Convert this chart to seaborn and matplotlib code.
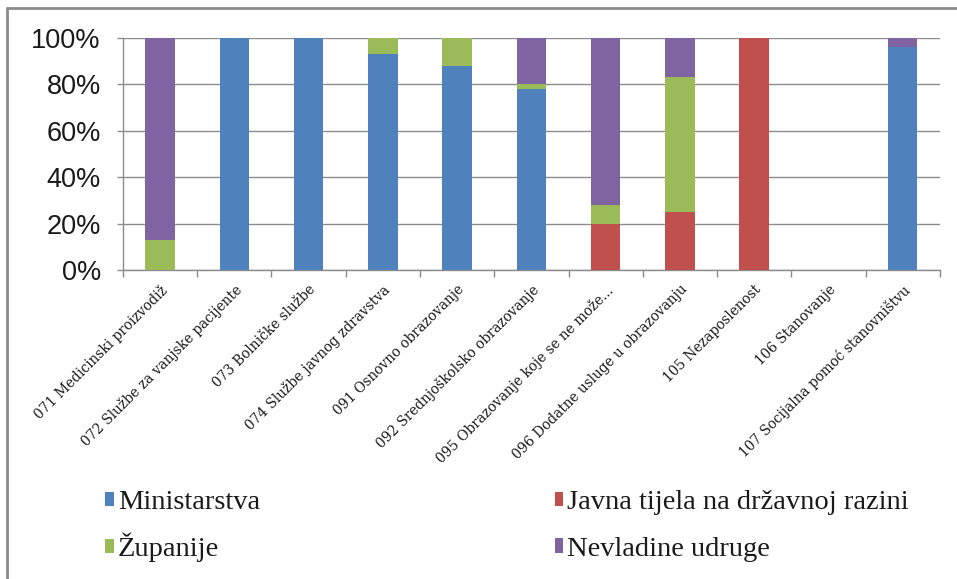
import numpy as np
import pandas as pd
import matplotlib
matplotlib.use("Agg")
import matplotlib.pyplot as plt
from matplotlib.patches import Patch
from matplotlib.lines import Line2D
from matplotlib.ticker import FuncFormatter
import seaborn as sns

# Functional categories (COFOG codes)
categories = [
    "071 Medicinski proizvodiž",
    "072 Službe za vanjske pacijente",
    "073 Bolničke službe",
    "074 Službe javnog zdravstva",
    "091 Osnovno obrazovanje",
    "092 Srednjoškolsko obrazovanje",
    "095 Obrazovanje koje se ne može...",
    "096 Dodatne usluge u obrazovanju",
    "105 Nezaposlenost",
    "106 Stanovanje",
    "107 Socijalna pomoć stanovništvu",
]

# Share of each provider type (%), stacked bottom to top
ministarstva = [0, 100, 100, 93, 88, 78, 0, 0, 0, 0, 96]
javna_tijela = [0, 0, 0, 0, 0, 0, 20, 25, 100, 0, 0]
zupanije = [13, 0, 0, 7, 12, 2, 8, 58, 0, 0, 0]
nevladine = [87, 0, 0, 0, 0, 20, 72, 17, 0, 0, 4]

series_names = ["Ministarstva", "Javna tijela na državnoj razini", "Županije", "Nevladine udruge"]
series_values = [ministarstva, javna_tijela, zupanije, nevladine]
series_colors = ["#4F81BD", "#C0504D", "#9BBB59", "#8064A2"]

y_ticks = [0, 20, 40, 60, 80, 100]

sns.set_theme(style="white")
plt.rcParams["font.family"] = ["Liberation Sans", "DejaVu Sans"]

fig = plt.figure(figsize=(9.57, 5.79), dpi=100)
ax = fig.add_axes([0.1285, 0.5337, 0.8535, 0.4007])

# Stacked bars: draw cumulative totals from the top segment down
cum = np.cumsum(np.array(series_values, dtype=float), axis=0)
for i in range(len(series_names) - 1, -1, -1):
    df = pd.DataFrame({"kategorija": categories, "udio": cum[i]})
    sns.barplot(data=df, x="kategorija", y="udio", order=categories,
                color=series_colors[i], saturation=1, width=0.40,
                linewidth=0, edgecolor="none", ax=ax, zorder=3)

ax.set_ylim(0, 100)
ax.set_xlim(-0.5, len(categories) - 0.5)
ax.set_yticks(y_ticks)
ax.yaxis.set_major_formatter(FuncFormatter(lambda v, p: f"{int(v)}%"))
ax.grid(axis="y", color="#8C8C8C", linewidth=1.0, zorder=0)
ax.set_axisbelow(True)
ax.set_xlabel("")
ax.set_ylabel("")

for side in ["top", "right"]:
    ax.spines[side].set_visible(False)
for side in ["left", "bottom"]:
    ax.spines[side].set_color("#8C8C8C")
    ax.spines[side].set_linewidth(1.0)

ax.tick_params(axis="y", which="major", left=True, length=4, width=1,
               color="#8C8C8C", pad=12, labelsize=19.5, labelcolor="#1a1a1a")

# Category ticks sit on the boundaries between bars
ax.set_xticks(np.arange(len(categories) + 1) - 0.5, minor=True)
ax.tick_params(axis="x", which="minor", bottom=True, length=5, width=1, color="#8C8C8C")
ax.tick_params(axis="x", which="major", bottom=False, pad=3)
ax.set_xticks(np.arange(len(categories)))
ax.set_xticklabels(categories, rotation=45, ha="right", rotation_mode="anchor",
                   fontsize=9.8, family=["DejaVu Serif"], color="#1a1a1a")

# Legend in two columns
handles = [Patch(facecolor=c, edgecolor="none") for c in series_colors]
leg_kw = dict(frameon=False, handlelength=0.3, handleheight=0.4,
              handletextpad=0.15,
              prop={"family": ["Liberation Serif", "DejaVu Serif"], "size": 20.5},
              loc="upper left", borderaxespad=0, borderpad=0)
leg1 = fig.legend([handles[0], handles[2]], [series_names[0], series_names[2]],
                  labelspacing=0.62, **leg_kw)
leg1.set_bbox_to_anchor((0.110, 0.1535), transform=fig.transFigure)
leg2 = fig.legend([handles[1], handles[3]], [series_names[1], series_names[3]],
                  labelspacing=0.76, **leg_kw)
leg2.set_bbox_to_anchor((0.5795, 0.1535), transform=fig.transFigure)
for leg in (leg1, leg2):
    for t in leg.get_texts():
        t.set_color("#1a1a1a")

# Outer chart frame (left and top edges)
fig.add_artist(Line2D([0.0075, 0.0075], [0.0, 0.986], transform=fig.transFigure,
                      color="#8C8C8C", linewidth=2))
fig.add_artist(Line2D([0.0075, 1.0], [0.986, 0.986], transform=fig.transFigure,
                      color="#8C8C8C", linewidth=2))

fig.savefig("out.png", dpi=100)
